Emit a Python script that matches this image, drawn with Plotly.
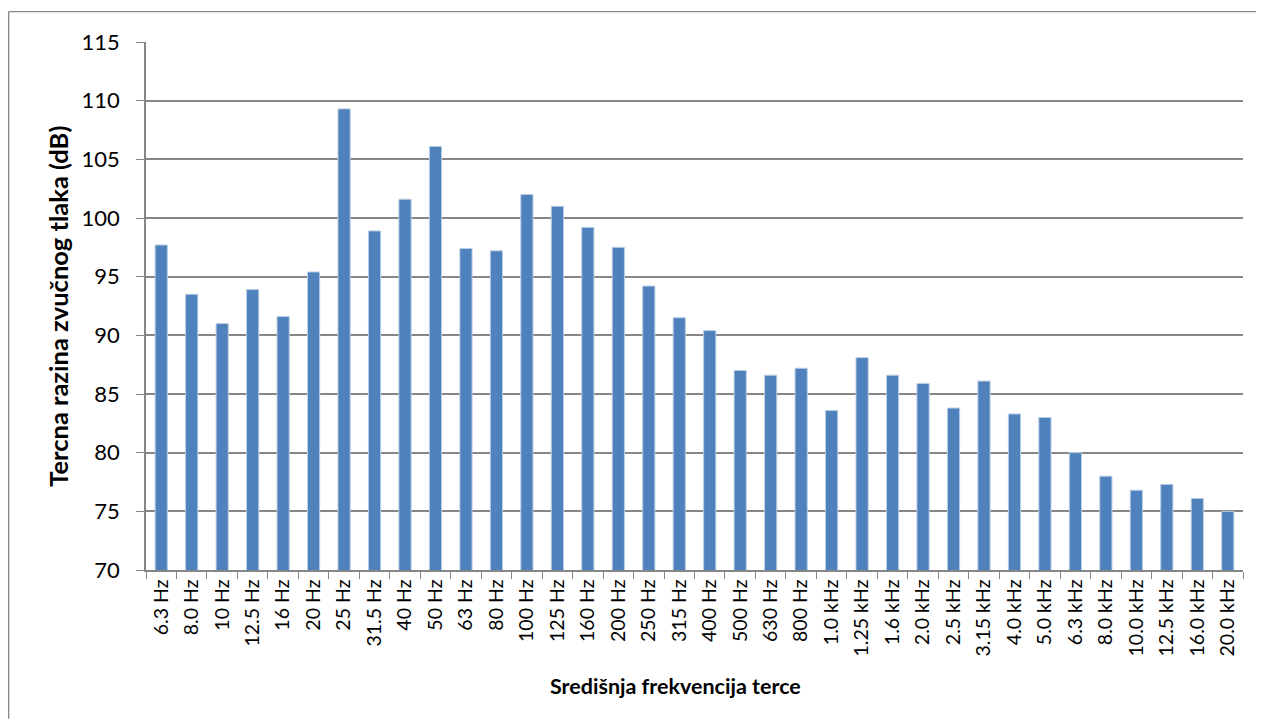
"""Tercna razina zvucnog tlaka - bar chart."""

import plotly.graph_objects as go

FREKVENCIJE = [
    "6.3 Hz", "8.0 Hz", "10 Hz", "12.5 Hz", "16 Hz", "20 Hz", "25 Hz", "31.5 Hz",
    "40 Hz", "50 Hz", "63 Hz", "80 Hz", "100 Hz", "125 Hz", "160 Hz", "200 Hz",
    "250 Hz", "315 Hz", "400 Hz", "500 Hz", "630 Hz", "800 Hz", "1.0 kHz", "1.25 kHz",
    "1.6 kHz", "2.0 kHz", "2.5 kHz", "3.15 kHz", "4.0 kHz", "5.0 kHz", "6.3 kHz",
    "8.0 kHz", "10.0 kHz", "12.5 kHz", "16.0 kHz", "20.0 kHz",
]
RAZINA_DB = [
    97.7, 93.5, 91.0, 93.9, 91.6, 95.4, 109.3, 98.9,
    101.6, 106.1, 97.4, 97.2, 102.0, 101.0, 99.2, 97.5,
    94.2, 91.5, 90.4, 87.0, 86.6, 87.2, 83.6, 88.1,
    86.6, 85.9, 83.8, 86.1, 83.3, 83.0, 80.0,
    78.0, 76.8, 77.3, 76.1, 75.0,
]
Y_TICKS = [70, 75, 80, 85, 90, 95, 100, 105, 110, 115]

GRID = "#868686"
BAR = "#4F81BD"
FONT = "Lato, Calibri, sans-serif"

# the page body adds an 8px margin, so the figure is a bit smaller than the window
FIG_W, FIG_H = 1256, 711
# plot area in figure pixels
L, R, T, B = 138, 1235, 33.5, 562
W, H = R - L, B - T

fig = go.Figure(
    go.Bar(
        x=FREKVENCIJE,
        y=RAZINA_DB,
        marker=dict(color=BAR, line=dict(color="#B9CDE5", width=1)),
        hoverinfo="x+y",
    )
)

frame_x0 = (0.7 - L) / W
frame_y1 = (B - 3) / H
fig.update_layout(
    width=FIG_W,
    height=FIG_H,
    margin=dict(l=L, r=FIG_W - R, t=T, b=FIG_H - B),
    paper_bgcolor="#FFFFFF",
    plot_bgcolor="#FFFFFF",
    bargap=0.6,
    showlegend=False,
    font=dict(family=FONT, color="#000000"),
    shapes=[
        # chart frame: only the left and top edges show in the window
        dict(type="line", xref="paper", yref="paper",
             x0=frame_x0, x1=frame_x0, y0=(B - FIG_H) / H, y1=frame_y1,
             line=dict(color=GRID, width=1.3), layer="below"),
        dict(type="line", xref="paper", yref="paper",
             x0=frame_x0, x1=(FIG_W - L) / W, y0=frame_y1, y1=frame_y1,
             line=dict(color=GRID, width=1.3), layer="below"),
    ],
    annotations=[
        dict(
            text="<b>Središnja frekvencija terce</b>",
            xref="paper", yref="paper",
            x=(667 - L) / W, y=(B - 678) / H,
            showarrow=False, font=dict(size=21.5, family=FONT),
            xanchor="center", yanchor="middle",
        ),
        dict(
            text="<b>Tercna razina zvučnog tlaka (dB)</b>",
            xref="paper", yref="paper",
            x=(50 - L) / W, y=(B - 298.5) / H,
            showarrow=False, textangle=-90, font=dict(size=25.5, family=FONT),
            xanchor="center", yanchor="middle",
        ),
    ],
)

fig.update_xaxes(
    type="category",
    tickangle=-90,
    tickfont=dict(size=19.5, family=FONT, color="#000000"),
    tickson="boundaries",
    ticks="outside",
    ticklen=7,
    tickcolor=GRID,
    tickwidth=1.3,
    showline=True,
    linecolor=GRID,
    linewidth=1.5,
    showgrid=False,
)

fig.update_yaxes(
    range=[70, 115],
    tickvals=Y_TICKS,
    tickfont=dict(size=22, family=FONT, color="#000000"),
    ticks="outside",
    ticklen=8,
    tickcolor=GRID,
    tickwidth=1.3,
    ticklabelstandoff=12,
    showline=True,
    linecolor=GRID,
    linewidth=1.5,
    showgrid=True,
    gridcolor=GRID,
    gridwidth=1.5,
    zeroline=False,
)

fig.write_html("out.html")
